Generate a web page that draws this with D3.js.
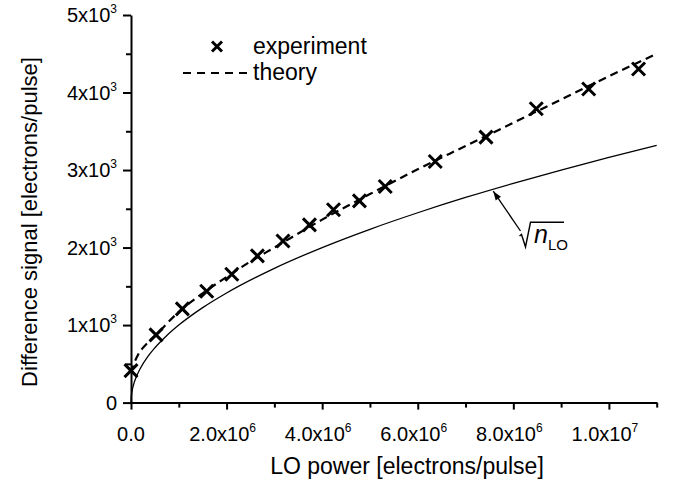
<!DOCTYPE html>
<html><head><meta charset="utf-8">
<script src="https://cdn.jsdelivr.net/npm/d3@7"></script>
<style>
body{margin:0;background:#fff}
text{font-family:"Liberation Sans",Arial,Helvetica,sans-serif;fill:#000}
</style>
</head><body><svg id="c" width="675" height="485"></svg>
<script>
// experiment points (x: electrons/pulse, y: electrons/pulse)
const expX = [0, 0.524e6, 1.075e6, 1.585e6, 2.109e6, 2.645e6, 3.18e6, 3.734e6, 4.237e6, 4.78e6, 5.32e6, 6.366e6, 7.428e6, 8.48e6, 9.577e6, 10.62e6];
const expY = [412, 873, 1209, 1437, 1656, 1893, 2085, 2293, 2487, 2603, 2788, 3110, 3425, 3791, 4045, 4303];
// theory (dashed)
const theoryX = [0, 0.05e6, 0.15e6, 0.3e6, 0.5e6, 1e6, 1.5e6, 2e6, 2.5e6, 3e6, 4e6, 5e6, 6e6, 7e6, 8e6, 9e6, 10e6, 11e6];
const theoryY = [380, 480, 620, 740, 860, 1170, 1410, 1620, 1820, 2000, 2360, 2690, 3010, 3310, 3610, 3910, 4210, 4500];
// sqrt(n_LO) (solid)
const sqrtX = [0, 0.005e6, 0.02e6, 0.05e6, 0.1e6, 0.2e6, 0.35e6, 0.5e6, 0.75e6, 1e6, 1.5e6, 2e6, 3e6, 4e6, 5e6, 6e6, 7e6, 8e6, 9e6, 10e6, 11e6];
const sqrtY = [0, 71, 141, 224, 316, 447, 592, 707, 866, 1000, 1225, 1414, 1732, 2000, 2236, 2449, 2646, 2828, 3000, 3162, 3317];
// ticks
const xMajor = [0, 2e6, 4e6, 6e6, 8e6, 10e6];
const xMinor = [1e6, 3e6, 5e6, 7e6, 9e6, 11e6];
const xTickMant = ["0.0", "2.0x10", "4.0x10", "6.0x10", "8.0x10", "1.0x10"];
const xTickExp = ["", "6", "6", "6", "6", "7"];
const yMajor = [0, 1000, 2000, 3000, 4000, 5000];
const yMinor = [500, 1500, 2500, 3500, 4500];
const yTickMant = ["0", "1x10", "2x10", "3x10", "4x10", "5x10"];
const yTickExp = ["", "3", "3", "3", "3", "3"];

const svg = d3.select("#c");
const x = d3.scaleLinear().domain([0, 11e6]).range([131, 656.7]);
const y = d3.scaleLinear().domain([0, 5000]).range([402.6, 15]);

// axes
const gx = svg.append("g").attr("transform", `translate(0,${y(0)})`);
gx.call(d3.axisBottom(x).tickValues(xMinor).tickSize(5).tickFormat("").tickSizeOuter(0));
gx.call(g => g.select(".domain").remove());
const gx2 = svg.append("g").attr("transform", `translate(0,${y(0)})`);
gx2.call(d3.axisBottom(x).tickValues(xMajor).tickSize(7).tickFormat("").tickSizeOuter(0));
const gy = svg.append("g").attr("transform", `translate(${x(0)},0)`);
gy.call(d3.axisLeft(y).tickValues(yMinor).tickSize(5).tickFormat("").tickSizeOuter(0));
gy.call(g => g.select(".domain").remove());
const gy2 = svg.append("g").attr("transform", `translate(${x(0)},0)`);
gy2.call(d3.axisLeft(y).tickValues(yMajor).tickSize(8).tickFormat("").tickSizeOuter(0));
svg.selectAll(".domain").attr("stroke", "#000").attr("stroke-width", 2);
svg.selectAll(".tick line").attr("stroke", "#000").attr("stroke-width", 2);

// x tick labels
xMajor.forEach((v, i) => {
  const t = svg.append("text").attr("x", x(v) + (xTickExp[i] ? -4 : 0)).attr("y", 441)
    .attr("text-anchor", "middle").style("font-size", "20px");
  t.append("tspan").text(xTickMant[i]);
  if (xTickExp[i]) t.append("tspan").attr("dy", -9).style("font-size", "12px").text(xTickExp[i]);
});
// y tick labels
yMajor.forEach((v, i) => {
  const t = svg.append("text").attr("x", 117).attr("y", y(v) + 7)
    .attr("text-anchor", "end").style("font-size", "20px");
  t.append("tspan").text(yTickMant[i]);
  if (yTickExp[i]) t.append("tspan").attr("dy", -9).style("font-size", "12px").text(yTickExp[i]);
});

// axis titles
svg.append("text").attr("x", 407).attr("y", 474).attr("text-anchor", "middle")
  .style("font-size", "23px").text("LO power [electrons/pulse]");
svg.append("text").attr("transform", `translate(37,222) rotate(-90)`).attr("text-anchor", "middle")
  .style("font-size", "22px").text("Difference signal [electrons/pulse]");

// lines
const sqrtData = sqrtX.map((v, i) => [v, sqrtY[i]]);
const theoryData = theoryX.map((v, i) => [v, theoryY[i]]);
const line = d3.line().x(d => x(d[0])).y(d => y(d[1])).curve(d3.curveMonotoneX);
svg.append("path").datum(sqrtData).attr("d", line).attr("fill", "none").attr("stroke", "#000").attr("stroke-width", 1.3);
svg.append("path").datum(theoryData).attr("d", line).attr("fill", "none").attr("stroke", "#000")
  .attr("stroke-width", 2.2).attr("stroke-dasharray", "8,5");

// crosses
const cross = (cx, cy, r) => `M${cx - r},${cy - r}L${cx + r},${cy + r}M${cx - r},${cy + r}L${cx + r},${cy - r}`;
svg.append("g").selectAll("path").data(expX.map((v, i) => [v, expY[i]])).join("path")
  .attr("d", d => cross(x(d[0]), y(d[1]), 6.5)).attr("stroke", "#000").attr("stroke-width", 3).attr("fill", "none");

// legend
svg.append("path").attr("d", cross(217, 46.5, 5)).attr("stroke", "#000").attr("stroke-width", 3);
svg.append("text").attr("x", 253).attr("y", 54).style("font-size", "23px").text("experiment");
svg.append("line").attr("x1", 183).attr("x2", 251).attr("y1", 73).attr("y2", 73)
  .attr("stroke", "#000").attr("stroke-width", 2).attr("stroke-dasharray", "8,6");
svg.append("text").attr("x", 253).attr("y", 80).style("font-size", "23px").text("theory");

// annotation arrow
const tipX = 7.58e6;
const tip = [x(tipX), y(2753) + 2];
const tail = [520.5, 231];
const ang = Math.atan2(tip[1] - tail[1], tip[0] - tail[0]);
svg.append("line").attr("x1", tail[0]).attr("y1", tail[1]).attr("x2", tip[0]).attr("y2", tip[1])
  .attr("stroke", "#000").attr("stroke-width", 1.3);
const ah = 9, aw = 3.2;
const p1 = [tip[0] - ah * Math.cos(ang) + aw * Math.sin(ang), tip[1] - ah * Math.sin(ang) - aw * Math.cos(ang)];
const p2 = [tip[0] - ah * Math.cos(ang) - aw * Math.sin(ang), tip[1] - ah * Math.sin(ang) + aw * Math.cos(ang)];
svg.append("path").attr("d", `M${tip[0]},${tip[1]}L${p1[0]},${p1[1]}L${p2[0]},${p2[1]}Z`).attr("fill", "#000");
// radical sign
svg.append("path").attr("d", "M519.5,236 L521.5,234.5 L525.5,247 L530.5,222.3 L564,222.3")
  .attr("fill", "none").attr("stroke", "#000").attr("stroke-width", 1.4);
const lab = svg.append("text").attr("x", 534).attr("y", 243);
lab.append("tspan").style("font-size", "25px").style("font-style", "italic").text("n");
lab.append("tspan").attr("dy", 7).style("font-size", "15px").text("LO");
</script>
</body></html>
